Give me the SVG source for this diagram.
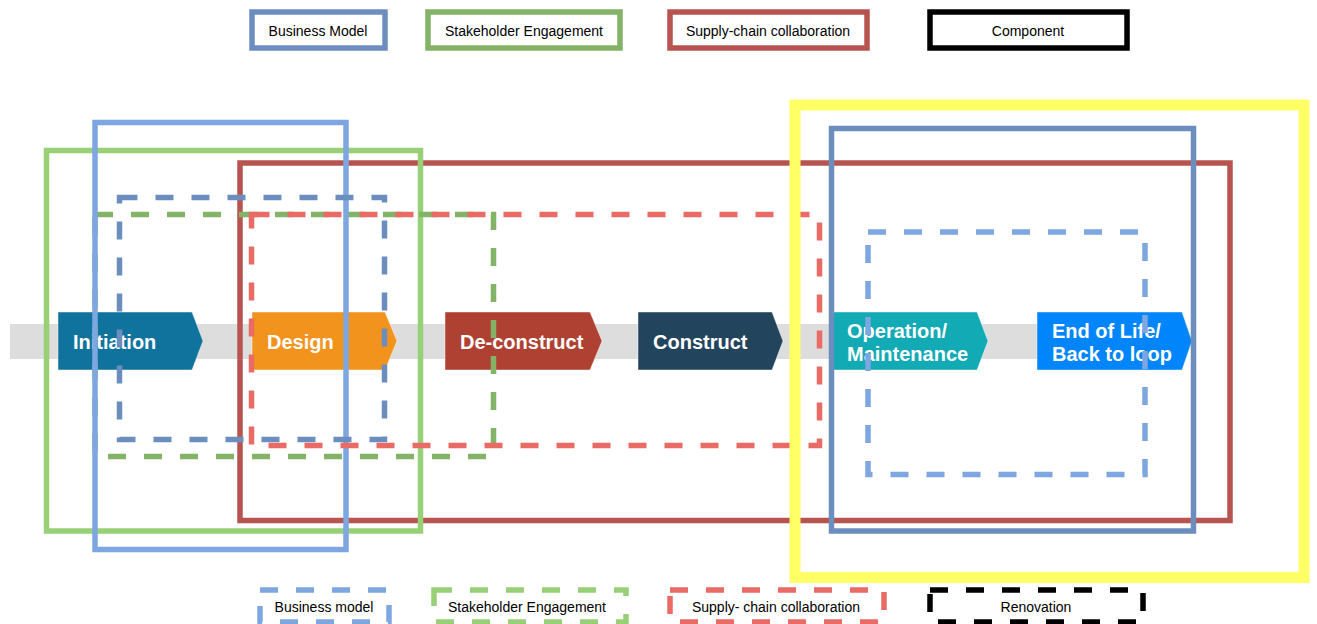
<svg xmlns="http://www.w3.org/2000/svg" width="1317" height="624" viewBox="0 0 1317 624">
  <style>
    .legend { font-family: "Liberation Sans", Arial, sans-serif; font-size: 14px; fill: #000; text-anchor: middle; }
    .step { font-family: "Liberation Sans", Arial, sans-serif; font-size: 20px; font-weight: bold; fill: #fff; }
    .chev { stroke: #ffffff; stroke-opacity: 0.45; stroke-width: 1; }
    .frame { fill: none; stroke-width: 5.5; }
    .dash { fill: none; stroke-width: 5.5; stroke-dasharray: 18 18; }
    .bm { stroke: #6c8ebf; }
    .bm2 { stroke: #7ea6e0; }
    .se { stroke: #97d077; }
    .se2 { stroke: #82b366; }
    .sc { stroke: #b85450; }
    .sc2 { stroke: #ea6b66; }
    .blk { stroke: #000000; }
  </style>

  <!-- legend: solid frames -->
  <g id="legend-top">
    <g id="legend-business-model">
      <rect class="frame bm" x="252" y="12" width="133" height="36"/>
      <text class="legend" x="318" y="36">Business Model</text>
    </g>
    <g id="legend-stakeholder">
      <rect class="frame se2" x="428" y="12" width="192" height="36"/>
      <text class="legend" x="524" y="36">Stakeholder Engagement</text>
    </g>
    <g id="legend-supply-chain">
      <rect class="frame sc" x="670" y="12" width="197" height="36"/>
      <text class="legend" x="768" y="36">Supply-chain collaboration</text>
    </g>
    <g id="legend-component">
      <rect class="frame blk" x="930" y="12" width="197" height="36"/>
      <text class="legend" x="1028" y="36">Component</text>
    </g>
  </g>

  <!-- process band -->
  <g id="band">
    <rect x="10" y="324" width="1175" height="35" fill="#dddddd"/>
  </g>

  <g id="initiation">
    <polygon class="chev" points="58,312 192,312 203,341 192,370 58,370" fill="#10739e"/>
    <text class="step" x="73" y="349">Initiation</text>
  </g>
  <g id="design">
    <polygon class="chev" points="252,312 385,312 397,341 385,370 252,370" fill="#f2931e"/>
    <text class="step" x="267" y="349">Design</text>
  </g>
  <g id="deconstruct">
    <polygon class="chev" points="445,312 590,312 602,341 590,370 445,370" fill="#ae4132"/>
    <text class="step" x="460" y="349">De-construct</text>
  </g>
  <g id="construct">
    <polygon class="chev" points="638,312 772,312 783,341 772,370 638,370" fill="#23445d"/>
    <text class="step" x="653" y="349">Construct</text>
  </g>
  <g id="operation">
    <polygon class="chev" points="833,312 977,312 988,341 977,370 833,370" fill="#12aab5"/>
    <text class="step" x="847" y="338">Operation/</text>
    <text class="step" x="847" y="361">Maintenance</text>
  </g>
  <g id="end-of-life">
    <polygon class="chev" points="1037,312 1182,312 1192,341 1182,370 1037,370" fill="#0085fc"/>
    <text class="step" x="1052" y="338">End of Life/</text>
    <text class="step" x="1052" y="361">Back to loop</text>
  </g>

  <!-- scope frames over the process -->
  <g id="scopes">
    <rect class="frame sc" x="240" y="163" width="990" height="357.5"/>
    <rect class="frame se" x="46.5" y="150.5" width="374" height="380.5"/>
    <rect class="dash se2" x="95" y="214.5" width="398.5" height="242"/>
    <rect class="frame bm2" x="95" y="122.5" width="251" height="427"/>
    <rect class="dash sc2" x="251.5" y="214.5" width="568" height="231"/>
    <rect class="dash bm" x="119.5" y="197.5" width="265" height="242"/>
    <rect class="frame bm" x="831.5" y="128.5" width="362" height="402.5"/>
    <rect class="dash bm2" x="868" y="232" width="277" height="242.5"/>
    <rect x="795" y="105" width="509" height="472.5" fill="none" stroke="#ffff66" stroke-width="11"/>
  </g>

  <!-- legend: dashed frames -->
  <g id="legend-bottom">
    <g id="legend-business-model-dashed">
      <rect class="dash bm2" x="260" y="590" width="129" height="32"/>
      <text class="legend" x="324" y="612">Business model</text>
    </g>
    <g id="legend-stakeholder-dashed">
      <rect class="dash se" x="434" y="590" width="192" height="32"/>
      <text class="legend" x="527" y="612">Stakeholder Engagement</text>
    </g>
    <g id="legend-supply-chain-dashed">
      <rect class="dash sc2" x="670" y="590" width="214" height="32"/>
      <text class="legend" x="776" y="612">Supply- chain collaboration</text>
    </g>
    <g id="legend-renovation">
      <rect class="dash blk" x="930" y="590" width="213" height="32"/>
      <text class="legend" x="1036" y="612">Renovation</text>
    </g>
  </g>
</svg>
